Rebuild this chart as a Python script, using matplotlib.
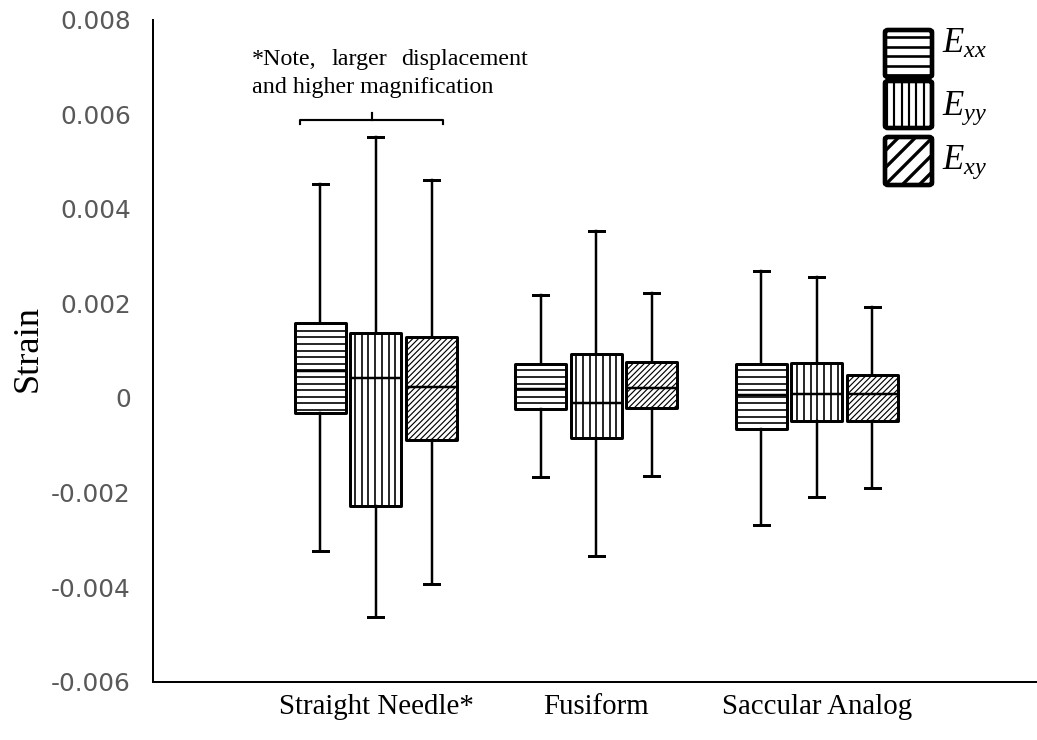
import matplotlib.pyplot as plt
import matplotlib.patches as mpatches
from matplotlib.collections import LineCollection
import numpy as np

# output size in pixels
W, H = 1037, 740
DPI = 119

plt.rcParams['mathtext.fontset'] = 'custom'
plt.rcParams['mathtext.rm'] = 'Liberation Serif'
plt.rcParams['mathtext.it'] = 'Liberation Serif:italic'

groups = ['Straight Needle*', 'Fusiform', 'Saccular Analog']
components = ['xx', 'yy', 'xy']

# five-number summaries per component, one value per group
exx_lo = [-0.00323, -0.00168, -0.00268]
exx_q1 = [-0.00032, -0.00024, -0.00066]
exx_med = [0.00057, 0.00019, 0.00006]
exx_q3 = [0.00159, 0.00072, 0.00072]
exx_hi = [0.00452, 0.00218, 0.00269]

eyy_lo = [-0.00464, -0.00334, -0.00210]
eyy_q1 = [-0.00228, -0.00085, -0.00048]
eyy_med = [0.00042, -0.00011, 0.00008]
eyy_q3 = [0.00137, 0.00094, 0.00075]
eyy_hi = [0.00552, 0.00354, 0.00255]

exy_lo = [-0.00393, -0.00165, -0.00191]
exy_q1 = [-0.00089, -0.00022, -0.00048]
exy_med = [0.00023, 0.00021, 0.00008]
exy_q3 = [0.00129, 0.00077, 0.00049]
exy_hi = [0.00461, 0.00223, 0.00192]

ytick_vals = [-0.006, -0.004, -0.002, 0, 0.002, 0.004, 0.006, 0.008]
ytick_labels = ['-0.006', '-0.004', '-0.002', '0', '0.002', '0.004', '0.006', '0.008']

summaries = [
    (exx_lo, exx_q1, exx_med, exx_q3, exx_hi),
    (eyy_lo, eyy_q1, eyy_med, eyy_q3, eyy_hi),
    (exy_lo, exy_q1, exy_med, exy_q3, exy_hi),
]
offsets = [-0.252, 0.0, 0.252]

# hatch style per component: (kind, spacing px, line width pt)
box_hatch = [('-', 6.6, 1.0), ('|', 6.7, 1.0), ('/', 5.7, 0.7)]
key_hatch = [('-', 9.4, 1.6), ('|', 7.3, 1.3), ('/', 17.0, 2.0)]


def px(x, y):
    # pixel position (from top-left) -> figure fraction
    return x / W, 1 - y / H


def hatch_segments(x0, y0, x1, y1, kind, step, ox=0.0, oy=0.0):
    # line segments (display coords) covering the rectangle
    if kind == '-':
        ys = oy + step * np.arange(np.floor((y0 - oy) / step), np.ceil((y1 - oy) / step) + 1)
        return [[(x0, y), (x1, y)] for y in ys]
    if kind == '|':
        xs = ox + step * np.arange(np.floor((x0 - ox) / step), np.ceil((x1 - ox) / step) + 1)
        return [[(x, y0), (x, y1)] for x in xs]
    c0, c1 = y0 - x1 - (oy - ox), y1 - x0 - (oy - ox)
    cs = (oy - ox) + step * np.arange(np.floor(c0 / step), np.ceil(c1 / step) + 1)
    return [[(x0, x0 + c), (x1, x1 + c)] for c in cs]


fig = plt.figure(figsize=(W / DPI, H / DPI), dpi=DPI)
ax = fig.add_axes([153 / W, 1 - 681.8 / H, 1 - 153 / W, (681.8 - 19.6) / H])
ax.set_xlim(-1.012, 3.0)
ax.set_ylim(-0.006, 0.008)

centers = np.arange(len(groups))
for k, (lo, q1, med, q3, hi) in enumerate(summaries):
    stats = []
    for i in range(len(groups)):
        stats.append(dict(whislo=lo[i], q1=q1[i], med=med[i], q3=q3[i],
                          whishi=hi[i], fliers=[]))
    art = ax.bxp(stats, positions=centers + offsets[k], widths=0.2315,
                 capwidths=0.068, patch_artist=True, showfliers=False,
                 manage_ticks=False,
                 boxprops=dict(facecolor='white', edgecolor='black',
                               linewidth=1.8, joinstyle='round'),
                 whiskerprops=dict(color='black', linewidth=1.5),
                 capprops=dict(color='black', linewidth=1.8),
                 medianprops=dict(color='black', linewidth=1.5))
    kind, step, lw = box_hatch[k]
    inv = ax.transData.inverted()
    for box in art['boxes']:
        bb = box.get_path().get_extents(box.get_transform())
        segs = hatch_segments(bb.x0, bb.y0, bb.x1, bb.y1, kind, step)
        lc = LineCollection([inv.transform(s) for s in segs], colors='black',
                            linewidths=lw, zorder=2.05)
        lc.set_clip_path(box)
        ax.add_collection(lc)

ax.set_yticks(ytick_vals)
ax.set_yticklabels(ytick_labels, fontsize=15, color='#595959',
                   family='DejaVu Sans')
ax.set_xticks(centers)
ax.set_xticklabels(groups, fontsize=17.5, family='Liberation Serif')
ax.tick_params(axis='y', length=0, pad=13.5)
ax.tick_params(axis='x', length=0, pad=7.6)
for s in ['top', 'right']:
    ax.spines[s].set_visible(False)
for s in ['left', 'bottom']:
    ax.spines[s].set_color('black')
    ax.spines[s].set_linewidth(1.2)

fig.text(*px(28, 348), 'Strain', rotation=90, ha='center', va='center',
         fontsize=22, family='Liberation Serif')

# note over the first group, first line justified
note_kw = dict(fontsize=14.5, family='Liberation Serif', va='baseline')
fig.text(*px(252, 65), '*Note,', ha='left', **note_kw)
fig.text(*px(359, 65), 'larger', ha='center', **note_kw)
fig.text(*px(528, 65), 'displacement', ha='right', **note_kw)
fig.text(*px(252, 93), 'and higher magnification', ha='left', **note_kw)

# bracket spanning the first group
bx0, bx1, bxm = -0.345, 0.304, -0.018
by, bend, btop = 0.00588, 0.00579, 0.00602
ax.plot([bx0, bx0, bx1, bx1], [bend, by, by, bend], color='black', lw=1.3,
        solid_joinstyle='round', clip_on=False)
ax.plot([bxm, bxm], [by, btop], color='black', lw=1.3, clip_on=False)

# legend keys
finv = fig.transFigure.inverted()
key_rows = [(30, 77, 53), (81, 128, 115), (137, 185, 169)]
for k, (top, bot, base) in enumerate(key_rows):
    kx0, kx1 = 885, 932
    x0, y0 = px(kx0, bot)
    x1, y1 = px(kx1, top)
    p = mpatches.FancyBboxPatch((x0, y0), x1 - x0, y1 - y0,
                                boxstyle='round,pad=0,rounding_size=0.003',
                                transform=fig.transFigure, facecolor='white',
                                edgecolor='black', linewidth=2.8, zorder=3)
    fig.add_artist(p)
    kind, step, lw = key_hatch[k]
    segs = hatch_segments(kx0, H - bot, kx1, H - top, kind, step,
                          ox=kx0 + 2, oy=H - bot + 2)
    lc = LineCollection([finv.transform(s) for s in segs], colors='black',
                        linewidths=lw, transform=fig.transFigure, zorder=2.9)
    lc.set_clip_path(p)
    fig.add_artist(lc)
    p.set_zorder(3.1)
    p.set_facecolor('none')
    bg = mpatches.FancyBboxPatch((x0, y0), x1 - x0, y1 - y0,
                                 boxstyle='round,pad=0,rounding_size=0.003',
                                 transform=fig.transFigure, facecolor='white',
                                 edgecolor='none', zorder=2.8)
    fig.add_artist(bg)
    fig.text(*px(942, base), r'$E_{%s}$' % components[k], fontsize=21,
             ha='left', va='baseline')

fig.savefig('out.png', dpi=DPI)
